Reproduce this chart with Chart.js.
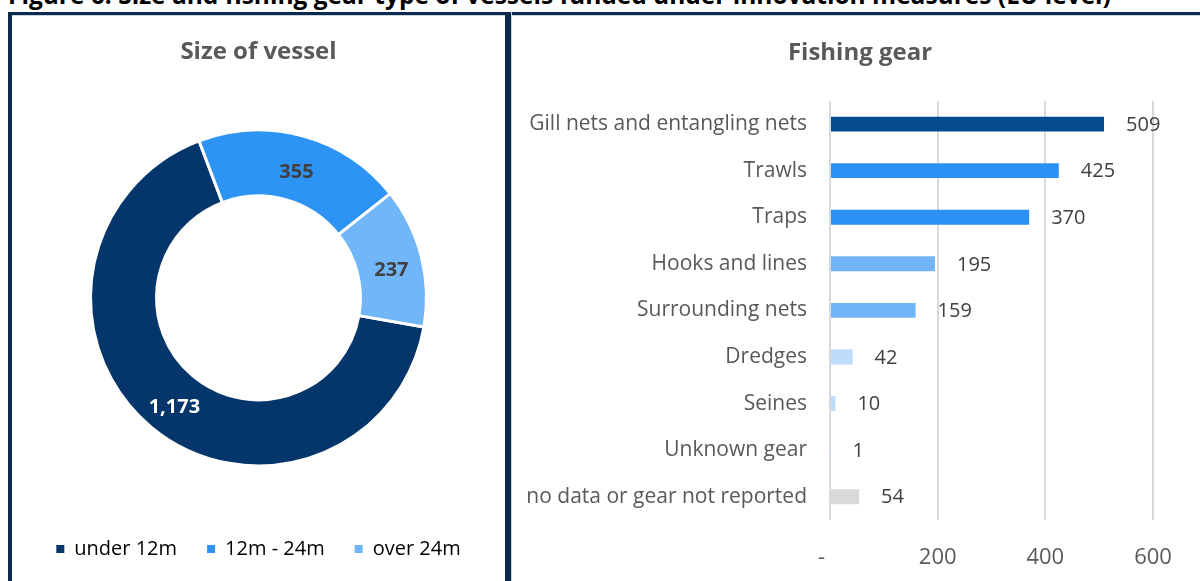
<!DOCTYPE html>
<html>
<head>
<meta charset="utf-8">
<title>Size and fishing gear type of vessels</title>
<script src="https://cdn.jsdelivr.net/npm/chart.js@4.4.1/dist/chart.umd.min.js"></script>
<style>
  body { margin: 0; width: 1200px; height: 581px; overflow: hidden; background: #fff; position: relative; font-family: "Open Sans", sans-serif; }
  #fig-title { position: absolute; left: 8px; top: -17px; font: bold 24.5px/24.5px "Open Sans", sans-serif; color: #000; white-space: nowrap; }
  #rule { position: absolute; left: 8px; right: 0; top: 12px; height: 3px; background: #0c2a4c; border-bottom: 1px solid #c8d5e2; }
  #left-edge { position: absolute; left: 8px; top: 12px; width: 4px; bottom: 0; background: #0c2a4c; }
  #divider { position: absolute; left: 505px; top: 12px; width: 6px; bottom: 0; background: #0c2a4c; border-right: 1px solid #c8d5e2; }
  #sizeBox { position: absolute; left: 12px; top: 16px; width: 493px; height: 565px; }
  /* the gear panel runs a little past the right edge of the page */
  #gearBox { position: absolute; left: 513px; top: 16px; width: 694px; height: 565px; }
</style>
</head>
<body>
<div id="fig-title">Figure 6: Size and fishing gear type of vessels funded under innovation measures (EU level)</div>
<div id="rule"></div>
<div id="left-edge"></div>
<div id="divider"></div>
<div id="sizeBox"><canvas id="size"></canvas></div>
<div id="gearBox"><canvas id="gear"></canvas></div>

<script>
// vessel size split
var sizeLabels = ["under 12m", "12m - 24m", "over 24m"];
var sizeValues = [1173, 355, 237];
var sizeColors = ["#05366b", "#2d94f6", "#72b6fa"];
var sizeTextColors = ["#ffffff", "#404040", "#404040"];

// fishing gear counts
var gearLabels = ["Gill nets and entangling nets", "Trawls", "Traps", "Hooks and lines",
  "Surrounding nets", "Dredges", "Seines", "Unknown gear", "no data or gear not reported"];
var gearValues = [509, 425, 370, 195, 159, 42, 10, 1, 54];
var gearColors = ["#054a8f", "#2b91f5", "#2b91f5", "#71b4f7", "#71b4f7",
  "#bddcfb", "#bddcfb", "#bddcfb", "#d9d9d9"];
var gearTicks = [0, 200, 400, 600];

Chart.defaults.font.family = "'Open Sans', sans-serif";
Chart.defaults.color = "#595959";
Chart.defaults.animation = false;
Chart.defaults.responsive = true;
Chart.defaults.maintainAspectRatio = false;

var fmt = new Intl.NumberFormat("en-US");

// numbers written on the donut ring, a little below each slice centroid
var ringLabels = {
  id: "ringLabels",
  afterDatasetsDraw: function(chart) {
    var ctx = chart.ctx;
    var meta = chart.getDatasetMeta(0);
    ctx.save();
    ctx.font = "bold 20px 'Open Sans', sans-serif";
    ctx.textAlign = "center";
    ctx.textBaseline = "middle";
    meta.data.forEach(function(arc, i) {
      var p = arc.getCenterPoint();
      ctx.fillStyle = sizeTextColors[i];
      ctx.fillText(fmt.format(sizeValues[i]), p.x + 2, p.y + 5);
    });
    ctx.restore();
  }
};

// value at the end of each bar
var barEndLabels = {
  id: "barEndLabels",
  afterDatasetsDraw: function(chart) {
    var ctx = chart.ctx;
    var meta = chart.getDatasetMeta(0);
    ctx.save();
    ctx.font = "20px 'Open Sans', sans-serif";
    ctx.fillStyle = "#404040";
    ctx.textAlign = "left";
    ctx.textBaseline = "middle";
    meta.data.forEach(function(bar, i) {
      ctx.fillText(fmt.format(gearValues[i]), bar.x + 22, bar.y + 1);
    });
    ctx.restore();
  }
};

new Chart(document.getElementById("size"), {
  type: "doughnut",
  data: {
    labels: sizeLabels,
    datasets: [{
      data: sizeValues,
      backgroundColor: sizeColors,
      borderColor: "#ffffff",
      borderWidth: 3,
      radius: 168,
      cutout: "60.7%"
    }]
  },
  options: {
    rotation: 100,
    layout: { padding: { bottom: 12 } },
    plugins: {
      title: {
        display: true,
        text: "Size of vessel",
        color: "#595959",
        font: { size: 24, weight: "bold" },
        padding: { top: 22, bottom: 20 }
      },
      legend: {
        position: "bottom",
        labels: {
          boxWidth: 8,
          boxHeight: 8,
          padding: 30,
          color: "#595959",
          font: { size: 20 },
          generateLabels: function(chart) {
            return sizeLabels.map(function(t, i) {
              return { text: t, fillStyle: sizeColors[i], strokeStyle: sizeColors[i], lineWidth: 0, index: i };
            });
          }
        }
      },
      tooltip: { enabled: false }
    }
  },
  plugins: [ringLabels]
});

new Chart(document.getElementById("gear"), {
  type: "bar",
  data: {
    labels: gearLabels,
    datasets: [{
      data: gearValues,
      backgroundColor: gearColors,
      categoryPercentage: 1,
      barPercentage: 0.32
    }]
  },
  options: {
    indexAxis: "y",
    scales: {
      x: {
        min: 0,
        max: 600,
        afterBuildTicks: function(axis) {
          axis.ticks = gearTicks.map(function(v) { return { value: v }; });
        },
        afterFit: function(axis) { axis.height = 61; },
        grid: { color: "#d9d9d9", lineWidth: 2, drawTicks: false },
        border: { display: false },
        ticks: {
          padding: 25,
          color: "#595959",
          font: { size: 22 },
          maxRotation: 0,
          callback: function(v) { return v === 0 ? "-   " : v; }
        }
      },
      y: {
        afterFit: function(axis) { axis.width = 317; },
        grid: { display: false, drawTicks: false },
        border: { display: false },
        ticks: { padding: 23, color: "#595959", font: { size: 21 } }
      },
      // empty strip on the right so the title stays centred on the whole panel
      yRight: {
        type: "category",
        position: "right",
        afterFit: function(axis) { axis.width = 54; },
        grid: { display: false, drawTicks: false },
        border: { display: false },
        ticks: { display: false }
      }
    },
    plugins: {
      title: {
        display: true,
        text: "Fishing gear",
        color: "#595959",
        font: { size: 24, weight: "bold" },
        padding: { top: 23, bottom: 33 }
      },
      legend: { display: false },
      tooltip: { enabled: false }
    }
  },
  plugins: [barEndLabels]
});
</script>
</body>
</html>
